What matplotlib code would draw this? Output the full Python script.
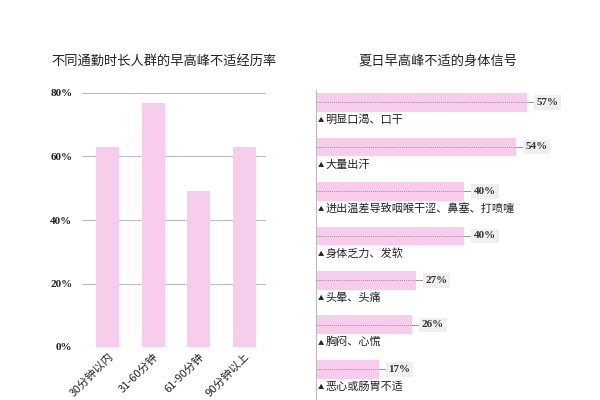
import matplotlib
matplotlib.use("Agg")
import matplotlib.pyplot as plt

plt.rcParams['font.family'] = ['Noto Sans CJK SC', 'DejaVu Sans']

# left chart data
commute = ["30分钟以内", "31-60分钟", "61-90分钟", "90分钟以上"]
commute_rate = [63, 77, 49, 63]
y_ticks = [0, 20, 40, 60, 80]

# right chart data
symptoms = ["明显口渴、口干", "大量出汗", "进出温差导致咽喉干涩、鼻塞、打喷嚏",
            "身体乏力、发软", "头晕、头痛", "胸闷、心慌", "恶心或肠胃不适"]
symptom_rate = [57, 54, 40, 40, 27, 26, 17]

pink = "#F7CDEB"
grid_c = "#BDBDBD"
serif = ["Liberation Serif", "DejaVu Serif"]

fig = plt.figure(figsize=(6, 4), dpi=100)
fig.patch.set_facecolor("white")

# ---- left: vertical bars ----
ax1 = fig.add_axes([0.137, 0.1325, 0.306, 0.635])
ax1.bar(range(len(commute)), commute_rate, width=0.5, color=pink, zorder=2)
ax1.set_ylim(0, 80)
ax1.set_xlim(-0.56, 3.47)
ax1.set_yticks(y_ticks)
ax1.set_yticklabels([f"{v}%" for v in y_ticks], fontfamily=serif,
                    fontweight="bold", fontsize=8, color="#222222")
ax1.yaxis.grid(True, color=grid_c, linewidth=0.8, zorder=1)
ax1.tick_params(axis="y", length=0, pad=7)
ax1.set_xticks(range(len(commute)))
ax1.set_xticklabels(commute, rotation=45, ha="right", rotation_mode="anchor",
                    fontsize=8, color="#222222")
ax1.tick_params(axis="x", length=0, pad=3)
for s in ax1.spines.values():
    s.set_visible(False)
fig.text(0.273, 0.848, "不同通勤时长人群的早高峰不适经历率", ha="center",
         va="center", fontsize=9.5, color="#222222")

# ---- right: horizontal bars ----
ax2 = fig.add_axes([0.5267, 0.0, 0.4667, 0.775])
n = len(symptoms)
ax2.set_xlim(0, 75.7)
ax2.set_ylim(6.69, -0.28)
ax2.barh(range(n), symptom_rate, height=0.42, color=pink, zorder=2)
for i, (name, v) in enumerate(zip(symptoms, symptom_rate)):
    ax2.plot([0, v], [i, i], color="#A88AA0", linewidth=0.7,
             linestyle=(0, (1, 1)), zorder=3)
    ax2.plot([v, v + 2.2], [i, i], color="#999999", linewidth=0.7, zorder=3)
    ax2.text(v + 2.6, i, f"{v}%", ha="left", va="center", fontfamily=serif,
             fontweight="bold", fontsize=8, color="#333333",
             bbox=dict(facecolor="#EFEFEF", edgecolor="none", pad=2))
    ax2.text(0.6, i + 0.40, "▲", ha="left", va="center",
             fontsize=4.5, color="#222222")
    ax2.annotate(name, (0.6, i + 0.39), xytext=(5, 0),
                 textcoords="offset points", ha="left", va="center",
                 fontsize=8, color="#222222")
ax2.set_xticks([])
ax2.set_yticks([])
for k in ["top", "right", "bottom"]:
    ax2.spines[k].set_visible(False)
ax2.spines["left"].set_color("#BBBBBB")
fig.text(0.73, 0.848, "夏日早高峰不适的身体信号", ha="center", va="center",
         fontsize=9.5, color="#222222")

fig.savefig("out.png", dpi=100, facecolor="white")
